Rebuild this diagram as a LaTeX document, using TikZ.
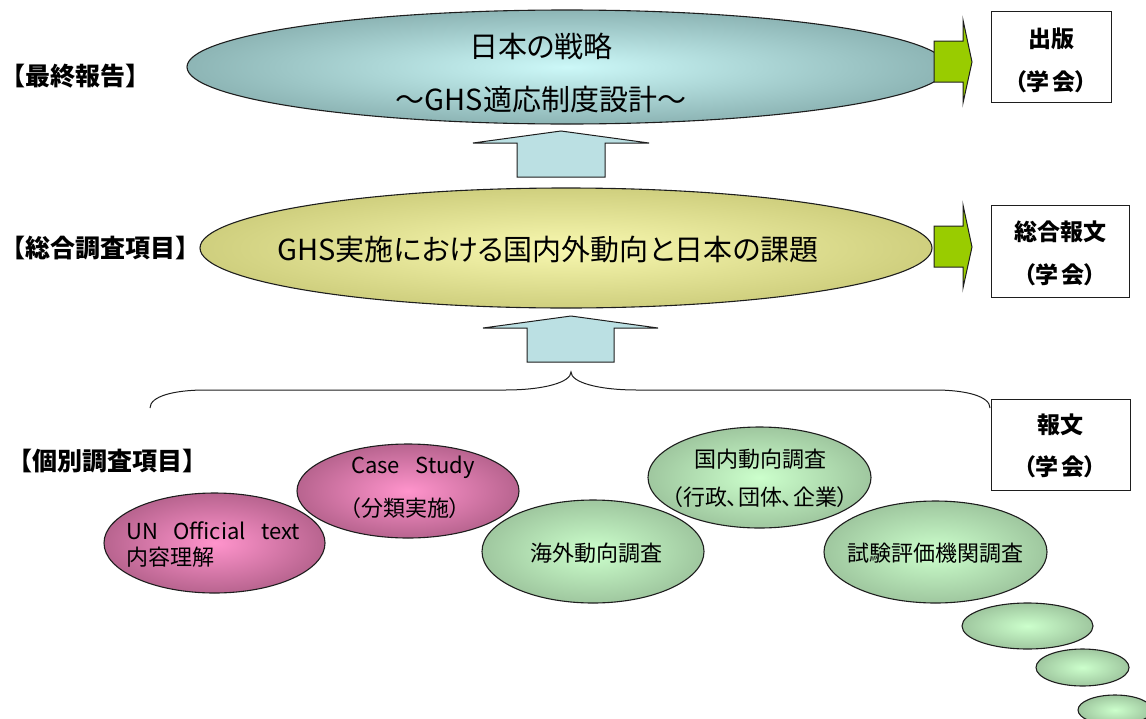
\documentclass[tikz,border=0pt]{standalone}
\usepackage{fontspec}
\setmainfont{Noto Sans CJK JP}[RawFeature={+palt}]
\newfontfamily\fullw{Noto Sans CJK JP}
\usetikzlibrary{shapes.geometric}
\definecolor{tealin}{HTML}{CCF8F8}
\definecolor{tealout}{HTML}{8DB5B5}
\definecolor{yelin}{HTML}{F8F8B0}
\definecolor{yelout}{HTML}{CFCF7E}
\definecolor{pinkin}{HTML}{FF94CC}
\definecolor{pinkout}{HTML}{B8648F}
\definecolor{grnin}{HTML}{CCFFCC}
\definecolor{grnout}{HTML}{9FC79F}
\definecolor{blockblue}{HTML}{BBE0E3}
\definecolor{limegreen}{HTML}{99CC00}
\definecolor{edge}{HTML}{1E1E1E}
\begin{document}
\begin{tikzpicture}[x=1pt,y=-1pt,
  ell/.style={ellipse, draw=edge, line width=1.1pt, inner sep=0pt},
  tealell/.style={ell, inner color=tealin, outer color=tealout},
  yelell/.style={ell, inner color=yelin, outer color=yelout},
  pinkell/.style={ell, inner color=pinkin, outer color=pinkout},
  grnell/.style={ell, inner color=grnin, outer color=grnout},
  pubbox/.style={draw=edge, line width=1pt, fill=white, inner sep=0pt},
  boxtxt/.style={font=\fontsize{23}{27}\selectfont\bfseries},
  lefttxt/.style={font=\fullw\fontsize{25}{29}\selectfont\bfseries, anchor=west, inner sep=0pt},
  bigtxt/.style={font=\fontsize{29}{33}\selectfont},
  smtxt/.style={font=\fontsize{22}{26}\selectfont},
  uparrow/.style={fill=blockblue, draw=edge, line width=1pt, line join=miter},
  grarrow/.style={fill=limegreen, draw=edge, line width=1pt, line join=miter}
]
\useasboundingbox (0,0) rectangle (1146,718);

% left labels
\node[lefttxt] (lbl1) at (0,76) {【最終報告】};
\node[lefttxt] (lbl2) at (0,248) {【総合調査項目】};
\node[lefttxt] (lbl3) at (7,461) {【個別調査項目】};

% top ellipse
\node[tealell, minimum width=760, minimum height=114] (top) at (567,67) {};
\node[bigtxt] (toptxt1) at (541,46) {日本の戦略};
\node[bigtxt] (toptxt2) at (541,100) {～GHS適応制度設計～};

% middle ellipse
\node[yelell, minimum width=732, minimum height=120] (mid) at (566,248) {};
\node[bigtxt] (midtxt) at (548,250) {GHS実施における国内外動向と日本の課題};

% block arrows (up)
\draw[uparrow] (517,177) -- (517,143) -- (473,143) -- (561,131) -- (649,143) -- (605,143) -- (605,177) -- cycle;
\draw[uparrow] (527,362) -- (527,328) -- (483,328) -- (571,316) -- (658,328) -- (614,328) -- (614,362) -- cycle;

% green arrows
\draw[grarrow] (934,41) -- (963,41) -- (963,20) -- (972,62) -- (963,103) -- (963,82) -- (934,82) -- cycle;
\draw[grarrow] (934,226) -- (963,226) -- (963,205) -- (972,247) -- (963,288) -- (963,267) -- (934,267) -- cycle;

% boxes
\node[pubbox, minimum width=120, minimum height=91] (box1) at (1051,56.5) {};
\node[boxtxt] (b1a) at (1051,39) {出版};
\node[boxtxt] (b1b) at (1051,82) {（学\,会）};
\node[pubbox, minimum width=138, minimum height=92] (box2) at (1060,251) {};
\node[boxtxt] (b2a) at (1060,232) {総合報文};
\node[boxtxt] (b2b) at (1060,275) {（学\,会）};

% brace
\coordinate (brL) at (150,408);
\coordinate (brT) at (571,372);
\coordinate (brR) at (990,408);
\draw[line width=1pt, edge] (brL) .. controls (150,396) and (175,390) .. (205,390)
  -- (505,390) .. controls (545,390) and (571,382) .. (brT)
  .. controls (571,382) and (597,390) .. (637,390)
  -- (935,390) .. controls (965,390) and (990,396) .. (brR);

\node[pubbox, minimum width=139, minimum height=91] (box3) at (1060.5,444.5) {};
\node[boxtxt] (b3a) at (1060,425) {報文};
\node[boxtxt] (b3b) at (1060,467) {（学\,会）};

% individual items
\node[pinkell, minimum width=221, minimum height=100] (un) at (214.5,543) {};
\node[smtxt, align=left, anchor=west, inner sep=0pt] (untxt) at (126,544) {UN\hspace{0.7em}Official\hspace{0.7em}text\\内容理解};

\node[pinkell, minimum width=222, minimum height=94] (cs) at (408,491) {};
\node[smtxt] (cstxt1) at (413,467) {Case\hspace{0.7em}Study};
\node[smtxt] (cstxt2) at (405,508) {（分類実施）};

\node[grnell, minimum width=222, minimum height=103] (kaigai) at (593,551.5) {};
\node[smtxt] (kaigaitxt) at (596,553) {海外動向調査};

\node[grnell, minimum width=223, minimum height=101] (kokunai) at (759.5,477.5) {};
\node[smtxt] (kokunaitxt1) at (760,459) {国内動向調査};
\node[smtxt] (kokunaitxt2) at (760,497) {（行政、団体、企業）};

\node[grnell, minimum width=223, minimum height=102] (shiken) at (935.5,552) {};
\node[smtxt] (shikentxt) at (935,553) {試験評価機関調査};

\node[grnell, minimum width=131, minimum height=46] (s1) at (1027.5,626) {};
\node[grnell, minimum width=93, minimum height=37] (s2) at (1082.5,667.5) {};
\node[grnell, minimum width=74, minimum height=30] (s3) at (1115,710) {};
\end{tikzpicture}
\end{document}
